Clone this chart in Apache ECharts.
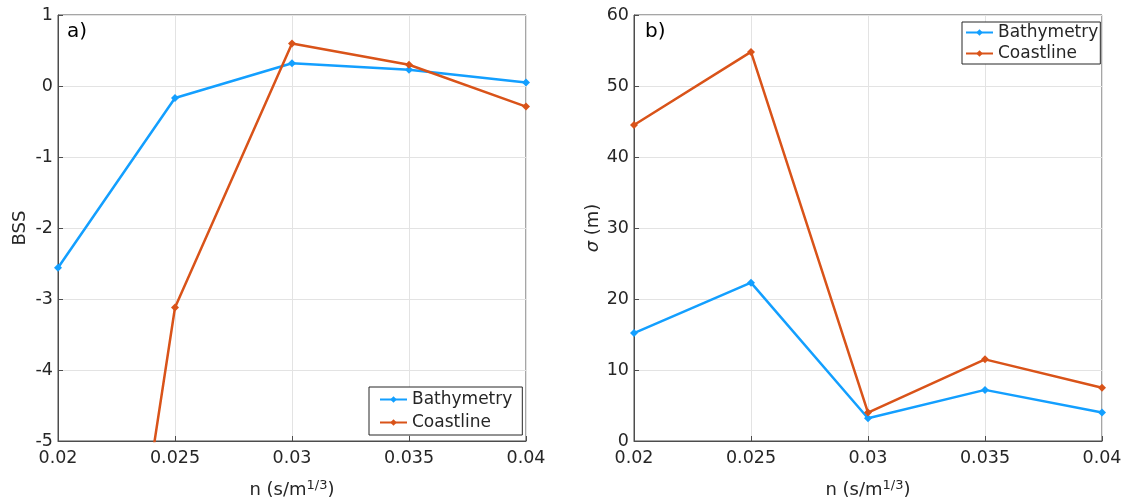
<!DOCTYPE html>
<html>
<head>
<meta charset="utf-8">
<script src="https://cdn.jsdelivr.net/npm/echarts@6/dist/echarts.min.js"></script>
<style>
  html, body { margin: 0; padding: 0; background: #fff; }
  #chart { width: 1127px; height: 500px; }
</style>
</head>
<body>
<div id="chart"></div>
<script>
  // manning n values
  var nValues = [0.02, 0.025, 0.03, 0.035, 0.04];
  // a) BSS
  var bathyBSS = [-2.56, -0.17, 0.32, 0.23, 0.05];
  var coastBSS = [-13.9, -3.12, 0.60, 0.30, -0.29];
  // b) sigma (m)
  var bathySigma = [15.2, 22.3, 3.2, 7.2, 4.0];
  var coastSigma = [44.5, 54.8, 4.0, 11.5, 7.5];

  var seriesNames = ['Bathymetry', 'Coastline'];
  var colors = ['#139FFF', '#D95319'];

  var font = 'DejaVu Sans';
  var axisGray = '#4d4d4d';

  function pairs(ys) {
    var out = [];
    for (var i = 0; i < nValues.length; i++) {
      out.push([nValues[i], ys[i]]);
    }
    return out;
  }

  function xAxisFor(idx) {
    return {
      type: 'value',
      gridIndex: idx,
      min: 0.02,
      max: 0.04,
      interval: 0.005,
      name: '{a|n (s/m}{b|1/3}{a|)}',
      nameLocation: 'middle',
      nameGap: 38,
      nameTextStyle: {
        rich: {
          a: { fontFamily: font, fontSize: 18, color: '#262626' },
          b: { fontFamily: font, fontSize: 13, color: '#262626', padding: [0, 0, 10, 0] }
        }
      },
      axisLine: { show: true, onZero: false, lineStyle: { color: axisGray } },
      axisTick: { inside: true, length: 5, lineStyle: { color: axisGray } },
      axisLabel: {
        fontFamily: font, fontSize: 17.5, color: '#262626', margin: 8,
        formatter: function (v) { return String(+v.toFixed(3)); }
      },
      splitLine: { show: true, lineStyle: { color: '#e3e3e3' } }
    };
  }

  function yAxisFor(idx, min, max, step, name, gap) {
    return {
      type: 'value',
      gridIndex: idx,
      min: min,
      max: max,
      interval: step,
      name: name,
      nameLocation: 'middle',
      nameGap: gap,
      nameRotate: 90,
      nameTextStyle: {
        fontFamily: font, fontSize: 18, color: '#262626',
        rich: {
          i: { fontFamily: font, fontSize: 18, fontStyle: 'italic', color: '#262626' },
          r: { fontFamily: font, fontSize: 18, color: '#262626' }
        }
      },
      axisLine: { show: true, onZero: false, lineStyle: { color: axisGray } },
      axisTick: { inside: true, length: 5, lineStyle: { color: axisGray } },
      axisLabel: { fontFamily: font, fontSize: 17.5, color: '#262626', margin: 5 },
      splitLine: { show: true, lineStyle: { color: '#e3e3e3' } }
    };
  }

  function lineSeries(name, ys, color, idx) {
    return {
      name: name,
      type: 'line',
      xAxisIndex: idx,
      yAxisIndex: idx,
      data: pairs(ys),
      clip: true,
      symbol: 'diamond',
      symbolSize: 8,
      showAllSymbol: true,
      lineStyle: { width: 2.5, color: color },
      itemStyle: { color: color },
      animation: false
    };
  }

  function legendFor(pos) {
    var base = {
      data: seriesNames,
      orient: 'vertical',
      backgroundColor: '#fff',
      borderColor: '#262626',
      borderWidth: 1,
      borderRadius: 0,
      itemWidth: 27,
      itemHeight: 8,
      selectedMode: false,
      textStyle: { fontFamily: font, fontSize: 17, color: '#262626' }
    };
    for (var k in pos) base[k] = pos[k];
    return base;
  }

  var chart = echarts.init(document.getElementById('chart'));

  var option = {
    backgroundColor: '#fff',
    color: colors,
    animation: false,
    title: [
      { text: 'a)', left: 62, top: 17, textStyle: { fontFamily: font, fontSize: 20, fontWeight: 'normal', color: '#000' } },
      { text: 'b)', left: 640, top: 17, textStyle: { fontFamily: font, fontSize: 20, fontWeight: 'normal', color: '#000' } }
    ],
    grid: [
      { left: 58, top: 15, width: 468, height: 426, outerBoundsMode: 'none', containLabel: false, show: true, borderColor: axisGray, borderWidth: 1, backgroundColor: 'transparent' },
      { left: 634, top: 15, width: 468, height: 426, outerBoundsMode: 'none', containLabel: false, show: true, borderColor: axisGray, borderWidth: 1, backgroundColor: 'transparent' }
    ],
    legend: [
      legendFor({ left: 369, top: 387, padding: [4, 10, 4, 10], itemGap: 6 }),
      legendFor({ left: 962, top: 22, padding: [2, 2, 2, 3], itemGap: 4 })
    ],
    xAxis: [xAxisFor(0), xAxisFor(1)],
    yAxis: [
      yAxisFor(0, -5, 1, 1, 'BSS', 29),
      yAxisFor(1, 0, 60, 10, '{i|σ}{r| (m)}', 32)
    ],
    series: [
      lineSeries(seriesNames[0], bathyBSS, colors[0], 0),
      lineSeries(seriesNames[1], coastBSS, colors[1], 0),
      lineSeries(seriesNames[0], bathySigma, colors[0], 1),
      lineSeries(seriesNames[1], coastSigma, colors[1], 1)
    ]
  };

  chart.setOption(option);
</script>
</body>
</html>
